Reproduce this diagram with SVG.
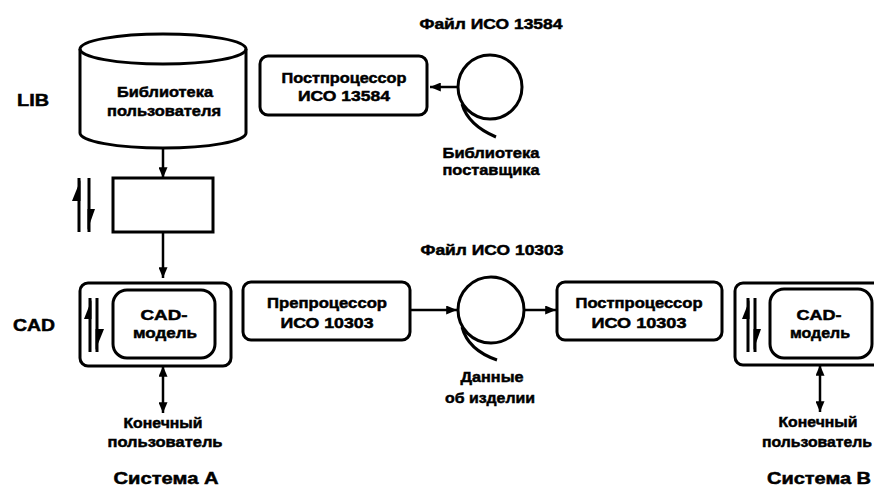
<svg xmlns="http://www.w3.org/2000/svg" width="874" height="490" viewBox="0 0 874 490">
<style>
.s{fill:none;stroke:#000;stroke-width:3}
.c{fill:none;stroke:#000;stroke-width:2.5}
.f{fill:#000;stroke:none}
text{font-family:"Liberation Sans",Arial,sans-serif;font-weight:bold;font-size:15px;fill:#000;stroke:#000;stroke-width:0.5}
.m{text-anchor:middle}
.big{font-size:17px}
</style>
<defs>
<marker id="ah" viewBox="0 0 12 10" refX="12" refY="5" markerWidth="12" markerHeight="9" markerUnits="userSpaceOnUse" orient="auto-start-reverse">
<path d="M0,0 L12,5 L0,10 Z" fill="#000"/>
</marker>
</defs>
<rect width="874" height="490" fill="#fff"/>

<text x="33" y="106" class="m big" textLength="32" lengthAdjust="spacingAndGlyphs">LIB</text>
<text x="34" y="331" class="m big" textLength="42" lengthAdjust="spacingAndGlyphs">CAD</text>

<g id="userLib">
<path class="s" d="M80 49 V133 A83 15 0 0 0 246 133 V49"/>
<ellipse class="s" cx="163" cy="49" rx="83" ry="15"/>
<text x="165" y="97" class="m" textLength="96" lengthAdjust="spacingAndGlyphs">Библиотека</text>
<text x="164" y="116" class="m" textLength="114" lengthAdjust="spacingAndGlyphs">пользователя</text>
</g>

<g id="emptyBox">
<rect class="s" x="113" y="178" width="100" height="54"/>
</g>

<g id="harpoonLib">
<path class="s" d="M79 178 V232 M89 178 V232"/>
<path class="f" d="M80.5 180 L72 201 L80.5 201 Z"/>
<path class="f" d="M87.5 230 L95 209 L87.5 209 Z"/>
</g>

<g id="post13584">
<rect class="s" x="260" y="56" width="167" height="59" rx="8"/>
<text x="344" y="83" class="m" textLength="125" lengthAdjust="spacingAndGlyphs">Постпроцессор</text>
<text x="344" y="101" class="m" textLength="92" lengthAdjust="spacingAndGlyphs">ИСО 13584</text>
</g>

<g id="file13584">
<circle class="s" cx="490" cy="87" r="32"/>
<path class="s" d="M462 104 Q468 125 496 137"/>
<text x="491" y="29" class="m" textLength="143" lengthAdjust="spacingAndGlyphs">Файл ИСО 13584</text>
<text x="491" y="158" class="m" textLength="97" lengthAdjust="spacingAndGlyphs">Библиотека</text>
<text x="491" y="175" class="m" textLength="97" lengthAdjust="spacingAndGlyphs">поставщика</text>
</g>

<g id="cadA">
<rect class="s" x="80" y="283" width="151" height="83" rx="8"/>
<rect class="s" x="113" y="290" width="102" height="68" rx="14"/>
<path class="s" d="M90 298 V352 M97 298 V352"/>
<path class="f" d="M91.5 300 L84 319 L91.5 319 Z"/>
<path class="f" d="M95.5 350 L104 329 L95.5 329 Z"/>
<text x="164" y="320" class="m" textLength="47" lengthAdjust="spacingAndGlyphs">CAD-</text>
<text x="165" y="338" class="m" textLength="64" lengthAdjust="spacingAndGlyphs">модель</text>
</g>

<g id="pre10303">
<rect class="s" x="243" y="282" width="167" height="58" rx="8"/>
<text x="327" y="308" class="m" textLength="120" lengthAdjust="spacingAndGlyphs">Препроцессор</text>
<text x="327" y="328" class="m" textLength="93" lengthAdjust="spacingAndGlyphs">ИСО 10303</text>
</g>

<g id="file10303">
<circle class="s" cx="491" cy="310" r="33"/>
<path class="s" d="M462 327 Q468 350 497 360"/>
<text x="492" y="255" class="m" textLength="143" lengthAdjust="spacingAndGlyphs">Файл ИСО 10303</text>
<text x="492" y="382" class="m" textLength="63" lengthAdjust="spacingAndGlyphs">Данные</text>
<text x="490" y="403" class="m" textLength="90" lengthAdjust="spacingAndGlyphs">об изделии</text>
</g>

<g id="post10303">
<rect class="s" x="557" y="282" width="165" height="58" rx="8"/>
<text x="639" y="308" class="m" textLength="127" lengthAdjust="spacingAndGlyphs">Постпроцессор</text>
<text x="639" y="328" class="m" textLength="95" lengthAdjust="spacingAndGlyphs">ИСО 10303</text>
</g>

<g id="cadB">
<rect class="s" x="735" y="283" width="160" height="82" rx="8"/>
<rect class="s" x="770" y="289" width="102" height="69" rx="14"/>
<path class="s" d="M748 298 V352 M755 298 V352"/>
<path class="f" d="M749.5 300 L742 319 L749.5 319 Z"/>
<path class="f" d="M753.5 350 L761 329 L753.5 329 Z"/>
<text x="819" y="320" class="m" textLength="45" lengthAdjust="spacingAndGlyphs">CAD-</text>
<text x="820" y="338" class="m" textLength="60" lengthAdjust="spacingAndGlyphs">модель</text>
</g>

<g id="userA">
<text x="163" y="428" class="m" textLength="79" lengthAdjust="spacingAndGlyphs">Конечный</text>
<text x="165" y="447" class="m" textLength="115" lengthAdjust="spacingAndGlyphs">пользователь</text>
<text x="166" y="484" class="m big" textLength="105" lengthAdjust="spacingAndGlyphs">Система А</text>
</g>

<g id="userB">
<text x="818" y="427" class="m" textLength="79" lengthAdjust="spacingAndGlyphs">Конечный</text>
<text x="817" y="447" class="m" textLength="110" lengthAdjust="spacingAndGlyphs">пользователь</text>
<text x="767" y="484" class="big" textLength="104" lengthAdjust="spacingAndGlyphs">Система В</text>
</g>

<g id="connectors">
<line class="c" x1="163" y1="148" x2="163" y2="178" marker-end="url(#ah)"/>
<line class="c" x1="163" y1="232" x2="163" y2="278" marker-end="url(#ah)"/>
<line class="c" x1="163" y1="366" x2="163" y2="413" marker-start="url(#ah)" marker-end="url(#ah)"/>
<line class="c" x1="458" y1="87" x2="430" y2="87" marker-end="url(#ah)"/>
<line class="c" x1="410" y1="310" x2="457" y2="310" marker-end="url(#ah)"/>
<line class="c" x1="524" y1="310" x2="556" y2="310" marker-end="url(#ah)"/>
<line class="c" x1="820" y1="365" x2="820" y2="412" marker-start="url(#ah)" marker-end="url(#ah)"/>
</g>
</svg>
